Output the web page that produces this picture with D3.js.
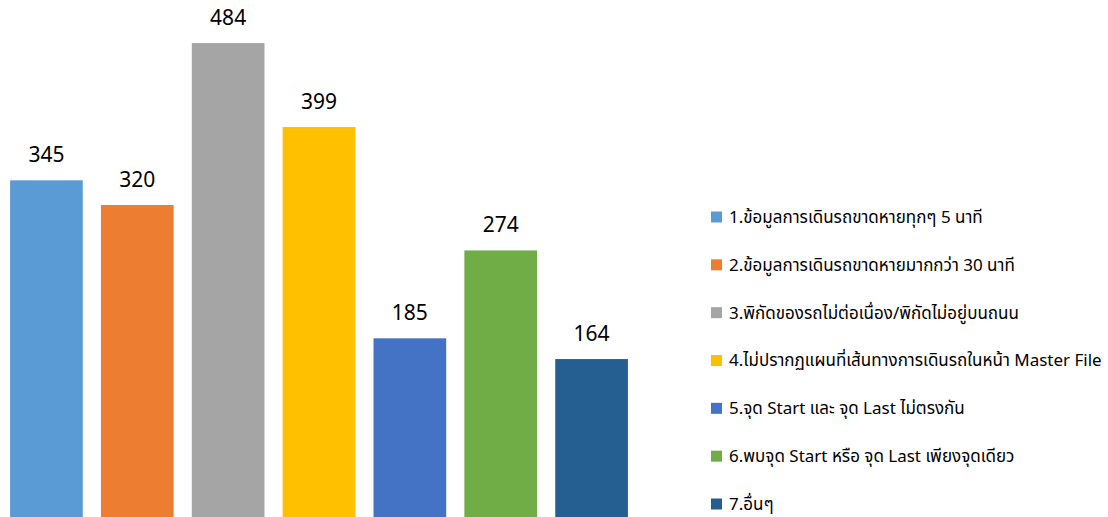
<!DOCTYPE html>
<html><head><meta charset="utf-8">
<script src="https://cdn.jsdelivr.net/npm/d3@7"></script>
<style>body{margin:0;background:#fff;} svg{display:block;}</style>
</head><body>
<svg id="c" width="1108" height="517"></svg>
<script>
const categories = [
  "1.ข้อมูลการเดินรถขาดหายทุกๆ 5 นาที",
  "2.ข้อมูลการเดินรถขาดหายมากกว่า 30 นาที",
  "3.พิกัดของรถไม่ต่อเนื่อง/พิกัดไม่อยู่บนถนน",
  "4.ไม่ปรากฏแผนที่เส้นทางการเดินรถในหน้า Master File",
  "5.จุด Start และ จุด Last ไม่ตรงกัน",
  "6.พบจุด Start หรือ จุด Last เพียงจุดเดียว",
  "7.อื่นๆ"
];
const values = [345, 320, 484, 399, 185, 274, 164];
const colors = ["#5B9BD5", "#ED7D31", "#A5A5A5", "#FFC000", "#4472C4", "#70AD47", "#255E91"];

const svg = d3.select("#c");
const font = "'Noto Sans Thai','Noto Sans','Tahoma','DejaVu Sans',sans-serif";
const x = d3.scaleBand().domain(categories).range([1, 637]).paddingInner(0.2).paddingOuter(0.1);
const y = d3.scaleLinear().domain([0, 500]).range([521, 27.25]);

svg.selectAll("rect.bar").data(values).join("rect")
  .attr("class", "bar")
  .attr("x", (d, i) => x(categories[i]))
  .attr("width", x.bandwidth())
  .attr("y", d => y(d))
  .attr("height", d => y(0) - y(d))
  .attr("fill", (d, i) => colors[i]);

svg.selectAll("text.lbl").data(values).join("text")
  .attr("class", "lbl")
  .attr("x", (d, i) => x(categories[i]) + x.bandwidth() / 2)
  .attr("y", d => y(d) - 18)
  .attr("text-anchor", "middle")
  .attr("font-family", font)
  .attr("font-size", 21)
  .attr("fill", "#000")
  .text(d => d);

const legend = svg.append("g");
const ly = d3.scalePoint().domain(categories).range([217, 504]);
const items = legend.selectAll("g").data(categories).join("g")
  .attr("transform", d => `translate(711,${ly(d)})`);
items.append("rect").attr("x", 0).attr("y", -5.5).attr("width", 11).attr("height", 11)
  .attr("fill", (d, i) => colors[i]);
items.append("text").attr("x", 18).attr("y", 0).attr("dy", "0.35em")
  .attr("font-family", font).attr("font-size", 17).attr("fill", "#000")
  .text(d => d);
</script>
</body></html>
